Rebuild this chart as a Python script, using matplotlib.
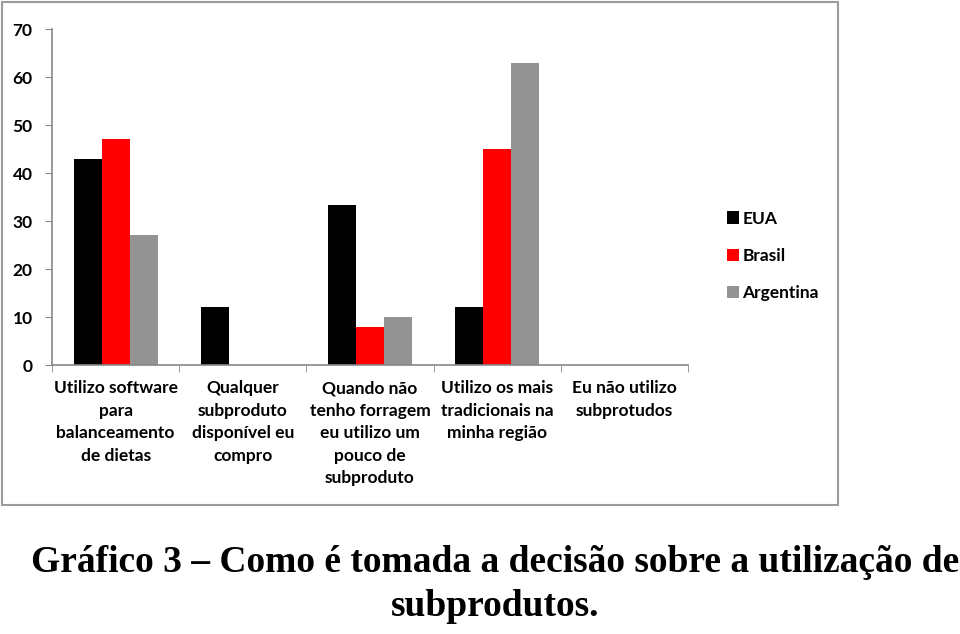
import matplotlib
matplotlib.use("Agg")
import matplotlib.pyplot as plt
import numpy as np
from matplotlib.patches import Rectangle

categories = [
    "Utilizo software\npara\nbalanceamento\nde dietas",
    "Qualquer\nsubproduto\ndisponível eu\ncompro",
    "Quando não\ntenho forragem\neu utilizo um\npouco de\nsubproduto",
    "Utilizo os mais\ntradicionais na\nminha região",
    "Eu não utilizo\nsubprotudos",
]
series_names = ["EUA", "Brasil", "Argentina"]
eua = [43, 12, 33.3, 12, 0]
brasil = [47, 0, 8, 45, 0]
argentina = [27, 0, 10, 63, 0]
colors = ["#000000", "#ff0000", "#939393"]
yticks = [0, 10, 20, 30, 40, 50, 60, 70]
caption = "Gráfico 3 – Como é tomada a decisão sobre a utilização de\nsubprodutos."

W, H = 960, 634
fig = plt.figure(figsize=(W / 100, H / 100), dpi=100)
fig.patch.set_facecolor("white")

# outer chart border
fig.patches.append(Rectangle((2 / W, 1 - 505 / H), 836 / W, 503 / H,
                             transform=fig.transFigure, fill=False,
                             edgecolor="#9a9a9a", linewidth=1.5))

ax = fig.add_axes([52 / W, 1 - 365 / H, 636 / W, 336 / H])
x = np.arange(len(categories))
bw = 0.22
for i, (vals, name, c) in enumerate(zip([eua, brasil, argentina], series_names, colors)):
    ax.bar(x + (i - 1) * bw, vals, width=bw, color=c, label=name, zorder=2)

ax.set_xlim(-0.5, len(categories) - 0.5)
ax.set_ylim(0, 70)
ax.set_yticks(yticks)
ax.set_yticklabels([str(v) for v in yticks], family="Lato", fontweight="bold", fontsize=12.5)
ax.set_xticks(x)
ax.set_xticklabels(categories, family="Lato", fontweight="bold", fontsize=12.5,
                   linespacing=1.5, va="top")
ax.tick_params(axis="x", which="major", length=0, pad=11)
ax.set_xticks(np.arange(len(categories) + 1) - 0.5, minor=True)
ax.tick_params(axis="x", which="minor", length=5, color="#888888", direction="out")
ax.tick_params(axis="y", length=5, color="#888888", direction="out", pad=9)
for s in ["top", "right"]:
    ax.spines[s].set_visible(False)
for s in ["left", "bottom"]:
    ax.spines[s].set_color("#888888")
    ax.spines[s].set_linewidth(1.2)

leg = fig.legend(loc="upper left", bbox_to_anchor=(711 / W, 1 - 195 / H),
                 frameon=False, handlelength=0.7, handleheight=0.7,
                 handletextpad=0.2, labelspacing=1.22,
                 prop={"family": "Lato", "weight": "bold", "size": 12.5})

fig.text(495 / W, 1 - 563 / H, caption.split("\n")[0], ha="center", va="center",
         family="Liberation Serif", fontweight="bold", fontsize=27)
fig.text(495 / W, 1 - 606 / H, caption.split("\n")[1], ha="center", va="center",
         family="Liberation Serif", fontweight="bold", fontsize=27)

fig.savefig("out.png", dpi=100, facecolor="white")
